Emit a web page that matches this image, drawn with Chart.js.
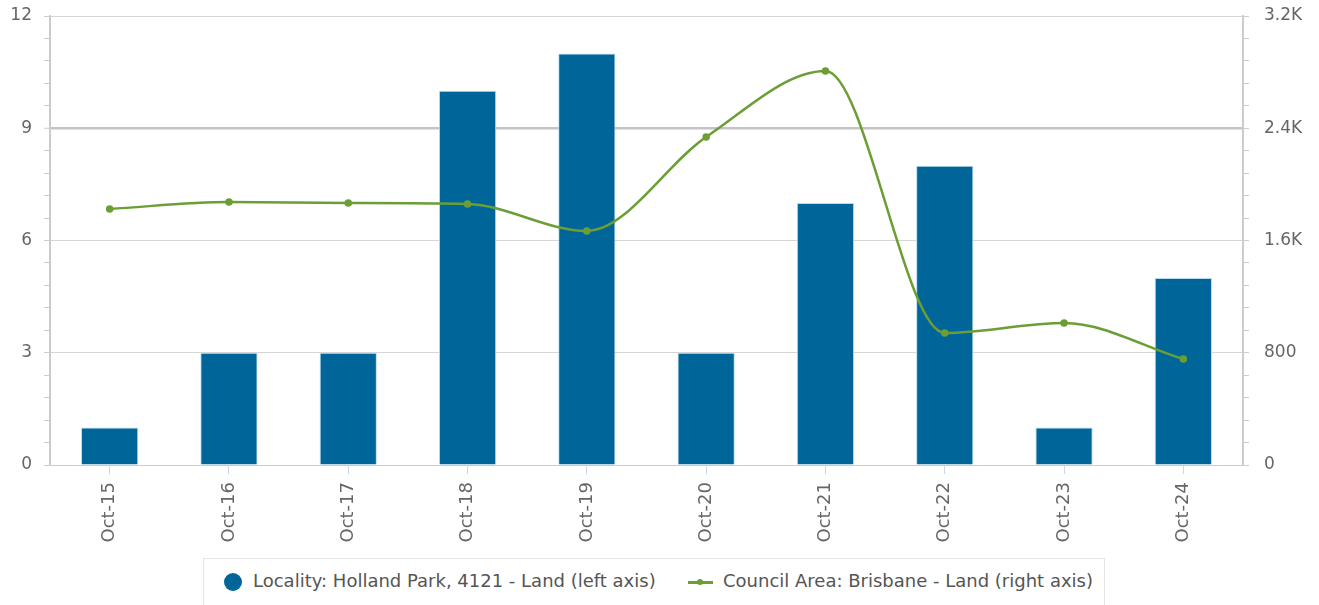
<!DOCTYPE html>
<html>
<head>
<meta charset="utf-8">
<script src="https://cdn.jsdelivr.net/npm/chart.js@4"></script>
<style>
  html, body { margin: 0; padding: 0; background: #fff; }
  body { width: 1319px; height: 605px; overflow: hidden; font-family: "DejaVu Sans", sans-serif; }
  .wrap { position: relative; width: 1319px; height: 552px; }
  .legend {
    position: absolute; left: 203px; top: 558px; width: 902px; height: 60px;
    border: 1px solid #e6e6e6; box-sizing: border-box;
    font-size: 18px; color: #555;
  }
  .legend .item { position: absolute; top: 11px; white-space: nowrap; }
  .legend .dot {
    position: absolute; left: 20px; top: 14px; width: 18px; height: 18px;
    border-radius: 50%; background: #006699;
  }
  .legend .ln { position: absolute; left: 484px; top: 22px; width: 25px; height: 3px; background: #6b9e35; }
  .legend .ln::after {
    content: ""; position: absolute; left: 9px; top: -2px; width: 6px; height: 6px;
    border-radius: 50%; background: #6b9e35;
  }
</style>
</head>
<body>
<div class="wrap"><canvas id="chart"></canvas></div>
<div class="legend">
  <span class="dot"></span>
  <span class="item" style="left:49px">Locality: Holland Park, 4121 - Land (left axis)</span>
  <span class="ln"></span>
  <span class="item" style="left:519px">Council Area: Brisbane - Land (right axis)</span>
</div>
<script>
// months on the x axis
const months = ["Oct-15", "Oct-16", "Oct-17", "Oct-18", "Oct-19", "Oct-20", "Oct-21", "Oct-22", "Oct-23", "Oct-24"];
// locality sales count (left axis)
const localityLand = [1, 3, 3, 10, 11, 3, 7, 8, 1, 5];
// council area sales count (right axis)
const councilLand = [1825, 1874, 1867, 1860, 1668, 2338, 2808, 941, 1012, 755];

const leftLabels = { 0: "0", 3: "3", 6: "6", 9: "9", 12: "12" };
const rightLabels = { 0: "0", 800: "800", 1600: "1.6K", 2400: "2.4K", 3200: "3.2K" };

const isMajor = (v, step) => Math.abs(v / step - Math.round(v / step)) < 1e-6;

// fixed axis boxes so the plot sits where the original does
function fitY(width) {
  return s => {
    s.width = width;
    s.paddingTop = 0;
    s.paddingBottom = 0;
  };
}

const ctx = document.getElementById("chart").getContext("2d");
new Chart(ctx, {
  data: {
    labels: months,
    datasets: [
      {
        type: "line",
        label: "Council Area: Brisbane - Land (right axis)",
        data: councilLand,
        yAxisID: "y1",
        borderColor: "#6b9e35",
        backgroundColor: "#6b9e35",
        borderWidth: 2.5,
        pointRadius: 2.5,
        pointHoverRadius: 3,
        tension: 0.4,
        cubicInterpolationMode: "monotone",
        order: 0
      },
      {
        type: "bar",
        label: "Locality: Holland Park, 4121 - Land (left axis)",
        data: localityLand,
        yAxisID: "y",
        backgroundColor: "#006699",
        borderColor: "#b8dcef",
        borderWidth: 1,
        barPercentage: 0.48,
        categoryPercentage: 1,
        order: 1
      }
    ]
  },
  options: {
    responsive: true,
    maintainAspectRatio: false,
    animation: false,
    layout: { autoPadding: false, padding: { top: 16, left: 0, right: 0, bottom: 0 } },
    plugins: { legend: { display: false }, tooltip: { enabled: false } },
    scales: {
      x: {
        offset: true,
        grid: { offset: false, drawOnChartArea: false, color: "#c8d8ea", tickLength: 9 },
        border: { color: "#cccccc", width: 1 },
        ticks: { color: "#666", font: { family: "DejaVu Sans", size: 18 }, minRotation: 90, maxRotation: 90, padding: 8 },
        afterFit: s => { s.height = 87; s.paddingLeft = 0; s.paddingRight = 0; }
      },
      y: {
        position: "left",
        min: 0, max: 12,
        ticks: {
          stepSize: 0.6,
          autoSkip: false,
          color: "#666",
          font: { family: "DejaVu Sans", size: 17 },
          padding: 12,
          callback: v => isMajor(v, 3) ? leftLabels[Math.round(v)] : ""
        },
        grid: {
          tickLength: 6,
          color: c => isMajor(c.tick.value, 3) ? (Math.round(c.tick.value) === 9 ? "#c4c4c4" : "#d6d6d6") : "rgba(0,0,0,0)",
          lineWidth: c => Math.round(c.tick.value * 10) === 90 ? 2.5 : 1,
          tickColor: "#cccccc",
          tickWidth: 1
        },
        border: { color: "#cccccc", width: 2 },
        afterFit: fitY(50)
      },
      y1: {
        position: "right",
        min: 0, max: 3200,
        ticks: {
          stepSize: 160,
          autoSkip: false,
          color: "#666",
          font: { family: "DejaVu Sans", size: 17 },
          padding: 15,
          callback: v => isMajor(v, 800) ? rightLabels[Math.round(v)] : ""
        },
        grid: { drawOnChartArea: false, tickLength: 6, tickColor: "#cccccc" },
        border: { color: "#cccccc", width: 2 },
        afterFit: fitY(76)
      }
    }
  }
});
</script>
</body>
</html>
